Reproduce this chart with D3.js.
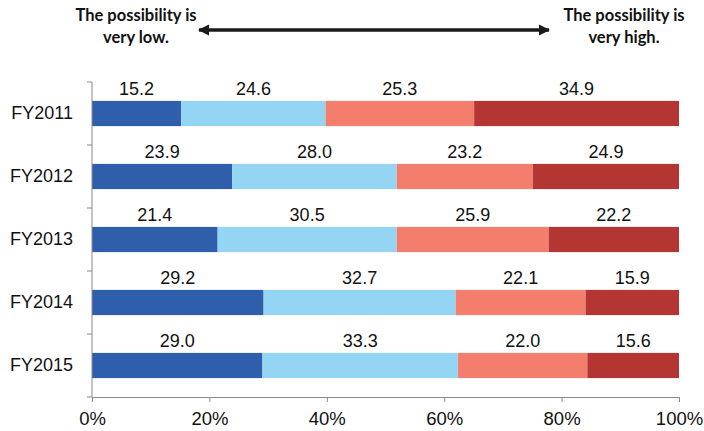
<!DOCTYPE html>
<html lang="en">
<head>
<meta charset="utf-8">
<title>Possibility survey FY2011-FY2015</title>
<script src="https://cdn.jsdelivr.net/npm/d3@7"></script>
<style>
  body { margin: 0; background: #fff; }
  svg { display: block; }
  .lbl { font-family: "Liberation Sans", Arial, sans-serif; fill: #111; }
  .axis path, .axis line { stroke: #8a8a8a; }
  .head { font-family: Lato, "Open Sans", sans-serif; font-weight: bold; font-size: 16.5px; fill: #111; }
</style>
</head>
<body>
<svg></svg>
<script>
// chart values
var years = ["FY2011", "FY2012", "FY2013", "FY2014", "FY2015"];
var levels = ["veryLow", "low", "high", "veryHigh"];
var veryLow  = [15.2, 23.9, 21.4, 29.2, 29.0];
var low      = [24.6, 28.0, 30.5, 32.7, 33.3];
var high     = [25.3, 23.2, 25.9, 22.1, 22.0];
var veryHigh = [34.9, 24.9, 22.2, 15.9, 15.6];
var tickValues = [0, 0.2, 0.4, 0.6, 0.8, 1];
var colors = ["#2f5fac", "#93d5f3", "#f37e6e", "#b33632"];

var width = 704, height = 431;
var margin = { left: 92, right: 25, top: 82, bottom: 34 };

var svg = d3.select("svg").attr("width", width).attr("height", height);

// rows for d3.stack
var rows = years.map(function(y, i) {
    return { year: y, veryLow: veryLow[i], low: low[i], high: high[i], veryHigh: veryHigh[i] };
});

var series = d3.stack()
    .keys(levels)
    .offset(d3.stackOffsetExpand)(rows);

var x = d3.scaleLinear()
    .domain([0, 1])
    .range([margin.left, width - margin.right]);

var y = d3.scaleBand()
    .domain(years)
    .range([margin.top, height - margin.bottom])
    .paddingInner(0.6)
    .paddingOuter(0.3);

// bars
var layer = svg.selectAll("g.layer")
    .data(series)
    .enter().append("g")
    .attr("class", "layer")
    .attr("fill", function(d, i) { return colors[i]; });

layer.selectAll("rect")
    .data(function(d) { return d; })
    .enter().append("rect")
    .attr("x", function(d) { return x(d[0]); })
    .attr("y", function(d) { return y(d.data.year); })
    .attr("width", function(d) { return x(d[1]) - x(d[0]); })
    .attr("height", y.bandwidth());

// value labels above each segment
layer.selectAll("text")
    .data(function(d) { return d.map(function(p) { p.key = d.key; return p; }); })
    .enter().append("text")
    .attr("class", "lbl")
    .attr("x", function(d) { return (x(d[0]) + x(d[1])) / 2; })
    .attr("y", function(d) { return y(d.data.year) - 6; })
    .attr("text-anchor", "middle")
    .style("font-size", "18px")
    .text(function(d) { return d.data[d.key].toFixed(1); });

// x axis
var xAxis = svg.append("g")
    .attr("class", "axis")
    .attr("transform", "translate(0," + (height - margin.bottom) + ")")
    .call(d3.axisBottom(x).tickValues(tickValues).tickFormat(d3.format(".0%")).tickSize(5).tickPadding(10));
xAxis.selectAll("text").attr("class", "lbl").style("font-size", "18.5px");

// y axis, ticks sit between the categories
var yAxis = svg.append("g")
    .attr("class", "axis")
    .attr("transform", "translate(" + margin.left + ",0)")
    .call(d3.axisLeft(y).tickSize(0).tickPadding(19));
yAxis.select(".domain").attr("d", "M0," + margin.top + "V" + (height - margin.bottom));
yAxis.selectAll("text").attr("class", "lbl").style("font-size", "18px");

var step = y.step();
svg.append("g")
    .attr("class", "axis")
    .selectAll("line")
    .data(d3.range(years.length + 1))
    .enter().append("line")
    .attr("x1", margin.left - 5)
    .attr("x2", margin.left)
    .attr("y1", function(i) { return margin.top + i * step; })
    .attr("y2", function(i) { return margin.top + i * step; });

// header: arrow between the two ends of the scale
var defs = svg.append("defs");
defs.append("marker")
    .attr("id", "head")
    .attr("viewBox", "0 0 10 10")
    .attr("refX", 9).attr("refY", 5)
    .attr("markerWidth", 3.2).attr("markerHeight", 3.2)
    .attr("orient", "auto-start-reverse")
    .append("path")
    .attr("d", "M0,0L10,5L0,10Z")
    .attr("fill", "#1a1a1a");

svg.append("line")
    .attr("x1", 199).attr("x2", 549)
    .attr("y1", 30).attr("y2", 30)
    .attr("stroke", "#1a1a1a")
    .attr("stroke-width", 3.5)
    .attr("marker-start", "url(#head)")
    .attr("marker-end", "url(#head)");

var headers = [
    { cx: 136, lines: ["The possibility is", "very low."] },
    { cx: 624, lines: ["The possibility is", "very high."] }
];
headers.forEach(function(h) {
    var t = svg.append("text").attr("class", "head").attr("text-anchor", "middle");
    h.lines.forEach(function(l, i) {
        t.append("tspan").attr("x", h.cx).attr("y", 21 + i * 22).text(l);
    });
});
</script>
</body>
</html>
